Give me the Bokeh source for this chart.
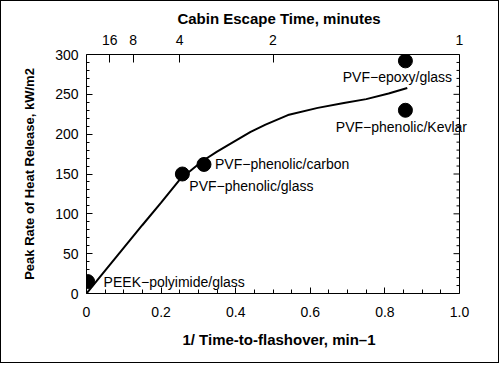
from bokeh.plotting import figure
from bokeh.models import LinearAxis, FixedTicker, Range1d, ColumnDataSource, Label
from bokeh.embed import file_html
from bokeh.resources import INLINE

# ---- data ----
materials = ["PEEK\u2212polyimide/glass", "PVF\u2212phenolic/glass", "PVF\u2212phenolic/carbon",
             "PVF\u2212epoxy/glass", "PVF\u2212phenolic/Kevlar"]
inv_flashover = [0.003, 0.257, 0.315, 0.855, 0.855]
peak_hrr = [15, 150, 162, 292, 230]

curve_x = [0.0, 0.04, 0.08, 0.15, 0.20, 0.25, 0.31, 0.35, 0.40, 0.44, 0.48, 0.54, 0.62, 0.69, 0.75, 0.81, 0.86]
curve_y = [0, 23, 46, 86, 114, 143, 166, 178, 192, 203, 212, 224, 233, 239, 244, 251, 258]

x_ticks = [0, 0.2, 0.4, 0.6, 0.8, 1.0]
x_tick_labels = ["0", "0.2", "0.4", "0.6", "0.8", "1.0"]
y_ticks = [0, 50, 100, 150, 200, 250, 300]
escape_minutes = [16, 8, 4, 2, 1]

# ---- styles / layout ----
label_dx = [16, 7, 11, -8, -4]
label_dy = [0, -12, 0, -16, -17]
label_align = ["left", "left", "left", "center", "center"]
FONT = "Liberation Sans"

X0, X1 = 0.0, 1.0          # axis extent
Y0, Y1 = 0.0, 300.0
PX_PER_X = 373.0           # pixels per x unit
FRAME_W = 385              # frame a bit wider than the axes so labels may overhang the right spine
X_END = FRAME_W / PX_PER_X

p = figure(width=499, height=363, output_backend="svg", toolbar_location=None,
           x_range=Range1d(X0, X_END), y_range=Range1d(Y0, Y1),
           min_border_left=85, min_border_right=499 - 85 - FRAME_W,
           min_border_top=53, min_border_bottom=71,
           x_axis_location="below", y_axis_location="left")
p.styles = {"border": "1px solid black"}
p.grid.visible = False
p.outline_line_color = None
p.background_fill_color = "white"
p.border_fill_color = "white"

def style_axis(ax, title_size="15px"):
    ax.axis_line_color = "black"
    ax.major_tick_line_color = "black"
    ax.minor_tick_line_color = "black"
    ax.major_tick_out = 0
    ax.minor_tick_out = 0
    ax.major_tick_in = 6
    ax.minor_tick_in = 3
    ax.major_label_text_font = FONT
    ax.major_label_text_font_size = "14px"
    ax.major_label_text_color = "black"
    ax.axis_label_text_font = FONT
    ax.axis_label_text_font_size = title_size
    ax.axis_label_text_font_style = "bold"
    ax.axis_label_text_color = "black"

minor_x = [i * 0.05 for i in range(21) if i % 4 != 0]
minor_y = [i * 10 for i in range(31) if i % 5 != 0]

xa = p.xaxis[0]
style_axis(xa)
xa.bounds = (X0, X1)
xa.ticker = FixedTicker(ticks=x_ticks, minor_ticks=minor_x)
xa.major_label_overrides = {t: s for t, s in zip(x_ticks, x_tick_labels)}
xa.major_label_standoff = 13
xa.axis_label = "1/ Time-to-flashover, min\u20131"
xa.axis_label_standoff = 11
xa.minor_tick_in = 4

ya = p.yaxis[0]
style_axis(ya, "13px")
ya.ticker = FixedTicker(ticks=y_ticks, minor_ticks=minor_y)
ya.major_label_standoff = 8
ya.axis_label = "Peak Rate of Heat Release, kW/m2"
ya.axis_label_standoff = 15

top_ticks = [1.0 / m for m in escape_minutes]
ta = LinearAxis(ticker=FixedTicker(ticks=top_ticks, minor_ticks=[]),
                major_label_overrides={t: str(m) for t, m in zip(top_ticks, escape_minutes)},
                axis_label="Cabin Escape Time, minutes", bounds=(X0, X1))
style_axis(ta)
ta.major_tick_in = 8
ta.major_label_standoff = 10
ta.axis_label_standoff = 5
p.add_layout(ta, "above")

# right spine with inward ticks
p.segment(x0=[X1], y0=[Y0], x1=[X1], y1=[Y1], line_color="black", line_width=1)
maj_len = 6 / PX_PER_X
min_len = 3 / PX_PER_X
p.segment(x0=[X1] * len(y_ticks), y0=y_ticks, x1=[X1 - maj_len] * len(y_ticks), y1=y_ticks,
          line_color="black", line_width=1)
p.segment(x0=[X1] * len(minor_y), y0=minor_y, x1=[X1 - min_len] * len(minor_y), y1=minor_y,
          line_color="black", line_width=1)

p.line(curve_x, curve_y, line_color="black", line_width=2)
src = ColumnDataSource(dict(x=inv_flashover, y=peak_hrr))
p.scatter("x", "y", source=src, size=14, fill_color="black", line_color="black")
for xv, yv, txt, dx, dy, al in zip(inv_flashover, peak_hrr, materials, label_dx, label_dy, label_align):
    p.add_layout(Label(x=xv, y=yv, text=txt, x_offset=dx, y_offset=dy, text_align=al,
                       text_baseline="middle", text_font=FONT, text_font_size="14px",
                       text_color="black"))

open("out.html", "w").write(file_html(p, INLINE))
